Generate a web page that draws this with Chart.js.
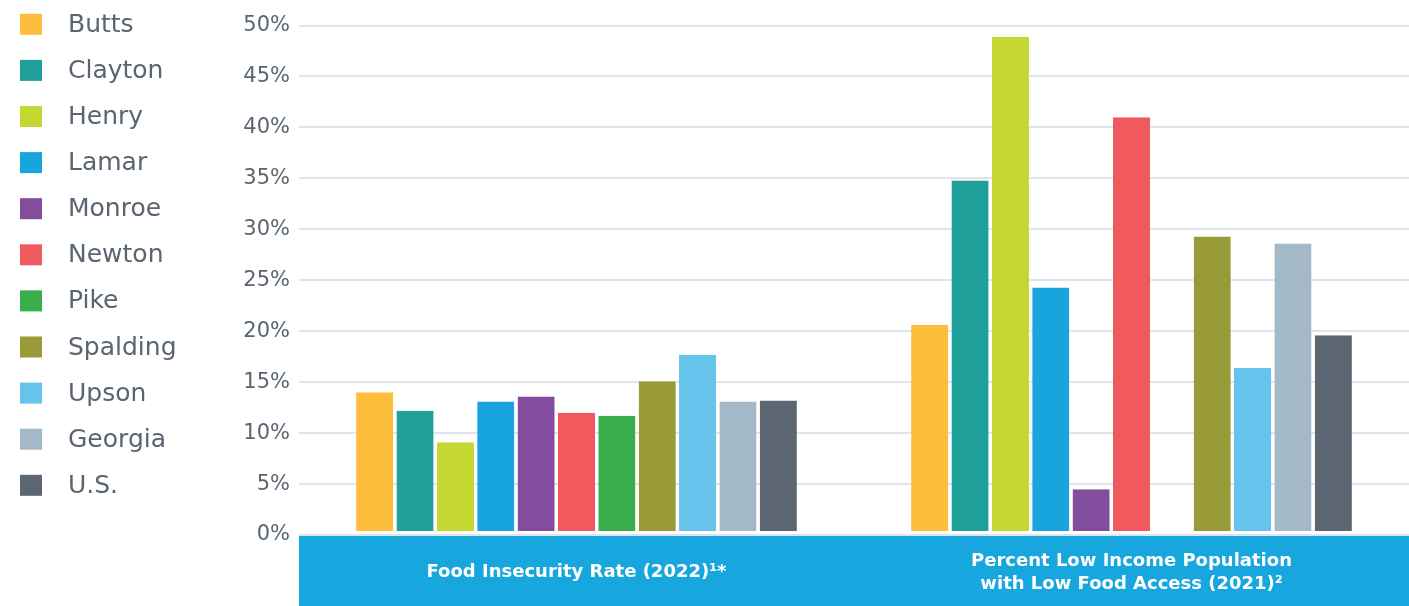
<!DOCTYPE html>
<html>
<head>
<meta charset="utf-8">
<script src="https://cdn.jsdelivr.net/npm/chart.js@4.4.1/dist/chart.umd.min.js"></script>
<style>
    html, body { margin: 0; padding: 0; background: #fff; }
    #wrap { width: 1409px; height: 606px; position: relative; }
</style>
</head>
<body>
<div id="wrap"><canvas id="foodChart"></canvas></div>
<script>
const categories = [
    'Food Insecurity Rate (2022)¹*',
    ['Percent Low Income Population', 'with Low Food Access (2021)²']
];

const counties = ['Butts', 'Clayton', 'Henry', 'Lamar', 'Monroe', 'Newton', 'Pike', 'Spalding', 'Upson', 'Georgia', 'U.S.'];

// [food insecurity, low income + low access], null where no value is reported
const butts    = [14.0, 20.6];
const clayton  = [12.2, 34.8];
const henry    = [9.1, 48.9];
const lamar    = [13.1, 24.3];
const monroe   = [13.6, 4.5];
const newton   = [12.0, 41.0];
const pike     = [11.7, null];
const spalding = [15.1, 29.3];
const upson    = [17.7, 16.4];
const georgia  = [13.1, 28.6];
const us       = [13.2, 19.6];

const seriesValues = [butts, clayton, henry, lamar, monroe, newton, pike, spalding, upson, georgia, us];

const yTicks = [0, 5, 10, 15, 20, 25, 30, 35, 40, 45, 50];

const COLORS = [
    '#fdbe3d', // Butts
    '#1fa09b', // Clayton
    '#c5d731', // Henry
    '#18a5de', // Lamar
    '#814d9c', // Monroe
    '#f05a5e', // Newton
    '#39ae4a', // Pike
    '#999a38', // Spalding
    '#66c3ec', // Upson
    '#a4b9c7', // Georgia
    '#5b6672'  // U.S.
];

const TEXT_GRAY = '#5a6571';
const BAND_BLUE = '#18a6df';
const FONT = '"DejaVu Sans", sans-serif';

// blue strip behind the category labels
const bandPlugin = {
    id: 'band',
    beforeDraw(chart) {
        const { ctx, chartArea } = chart;
        ctx.save();
        ctx.fillStyle = BAND_BLUE;
        ctx.fillRect(chartArea.left, chartArea.bottom + 1, chartArea.right - chartArea.left, chart.height - chartArea.bottom - 1);
        ctx.restore();
    }
};

// legend column on the left side
const sideLegend = {
    id: 'sideLegend',
    afterDraw(chart) {
        const ctx = chart.ctx;
        ctx.save();
        ctx.font = '25px ' + FONT;
        ctx.textBaseline = 'middle';
        ctx.textAlign = 'left';
        chart.data.datasets.forEach((ds, i) => {
            const y = 24.3 + i * 46.1;
            ctx.fillStyle = ds.backgroundColor;
            ctx.fillRect(20, y - 10.5, 22, 21);
            ctx.fillStyle = TEXT_GRAY;
            ctx.fillText(ds.label, 68, y + 1);
        });
        ctx.restore();
    }
};

const datasets = counties.map((name, i) => ({
    label: name,
    data: seriesValues[i],
    backgroundColor: COLORS[i],
    borderColor: '#ffffff',
    borderWidth: { top: 0, left: 0, right: 0, bottom: 3 },
    borderSkipped: false,
    categoryPercentage: 0.8,
    barPercentage: 0.92
}));

new Chart(document.getElementById('foodChart'), {
    type: 'bar',
    data: { labels: categories, datasets: datasets },
    plugins: [bandPlugin, sideLegend],
    options: {
        responsive: true,
        maintainAspectRatio: false,
        animation: false,
        layout: { padding: { left: 200, top: 25.5, right: 0, bottom: 0 } },
        plugins: {
            legend: { display: false },
            tooltip: { enabled: false }
        },
        scales: {
            x: {
                afterFit(scale) { scale.height = 71; },
                grid: { display: false, drawTicks: false },
                border: { display: false },
                ticks: {
                    color: '#ffffff',
                    font: { family: FONT, size: 18, weight: 'bold', lineHeight: 1.28 },
                    padding: 26,
                    crossAlign: 'center',
                    maxRotation: 0,
                    autoSkip: false
                }
            },
            y: {
                min: 0,
                max: 50,
                afterFit(scale) { scale.width = 99; },
                afterBuildTicks(scale) { scale.ticks = yTicks.map(v => ({ value: v })); },
                grid: { color: '#e1e4ed', lineWidth: 2, drawTicks: false },
                border: { display: false },
                ticks: {
                    color: TEXT_GRAY,
                    font: { family: FONT, size: 21 },
                    padding: 9,
                    callback: v => v + '%'
                }
            }
        }
    }
});
</script>
</body>
</html>
